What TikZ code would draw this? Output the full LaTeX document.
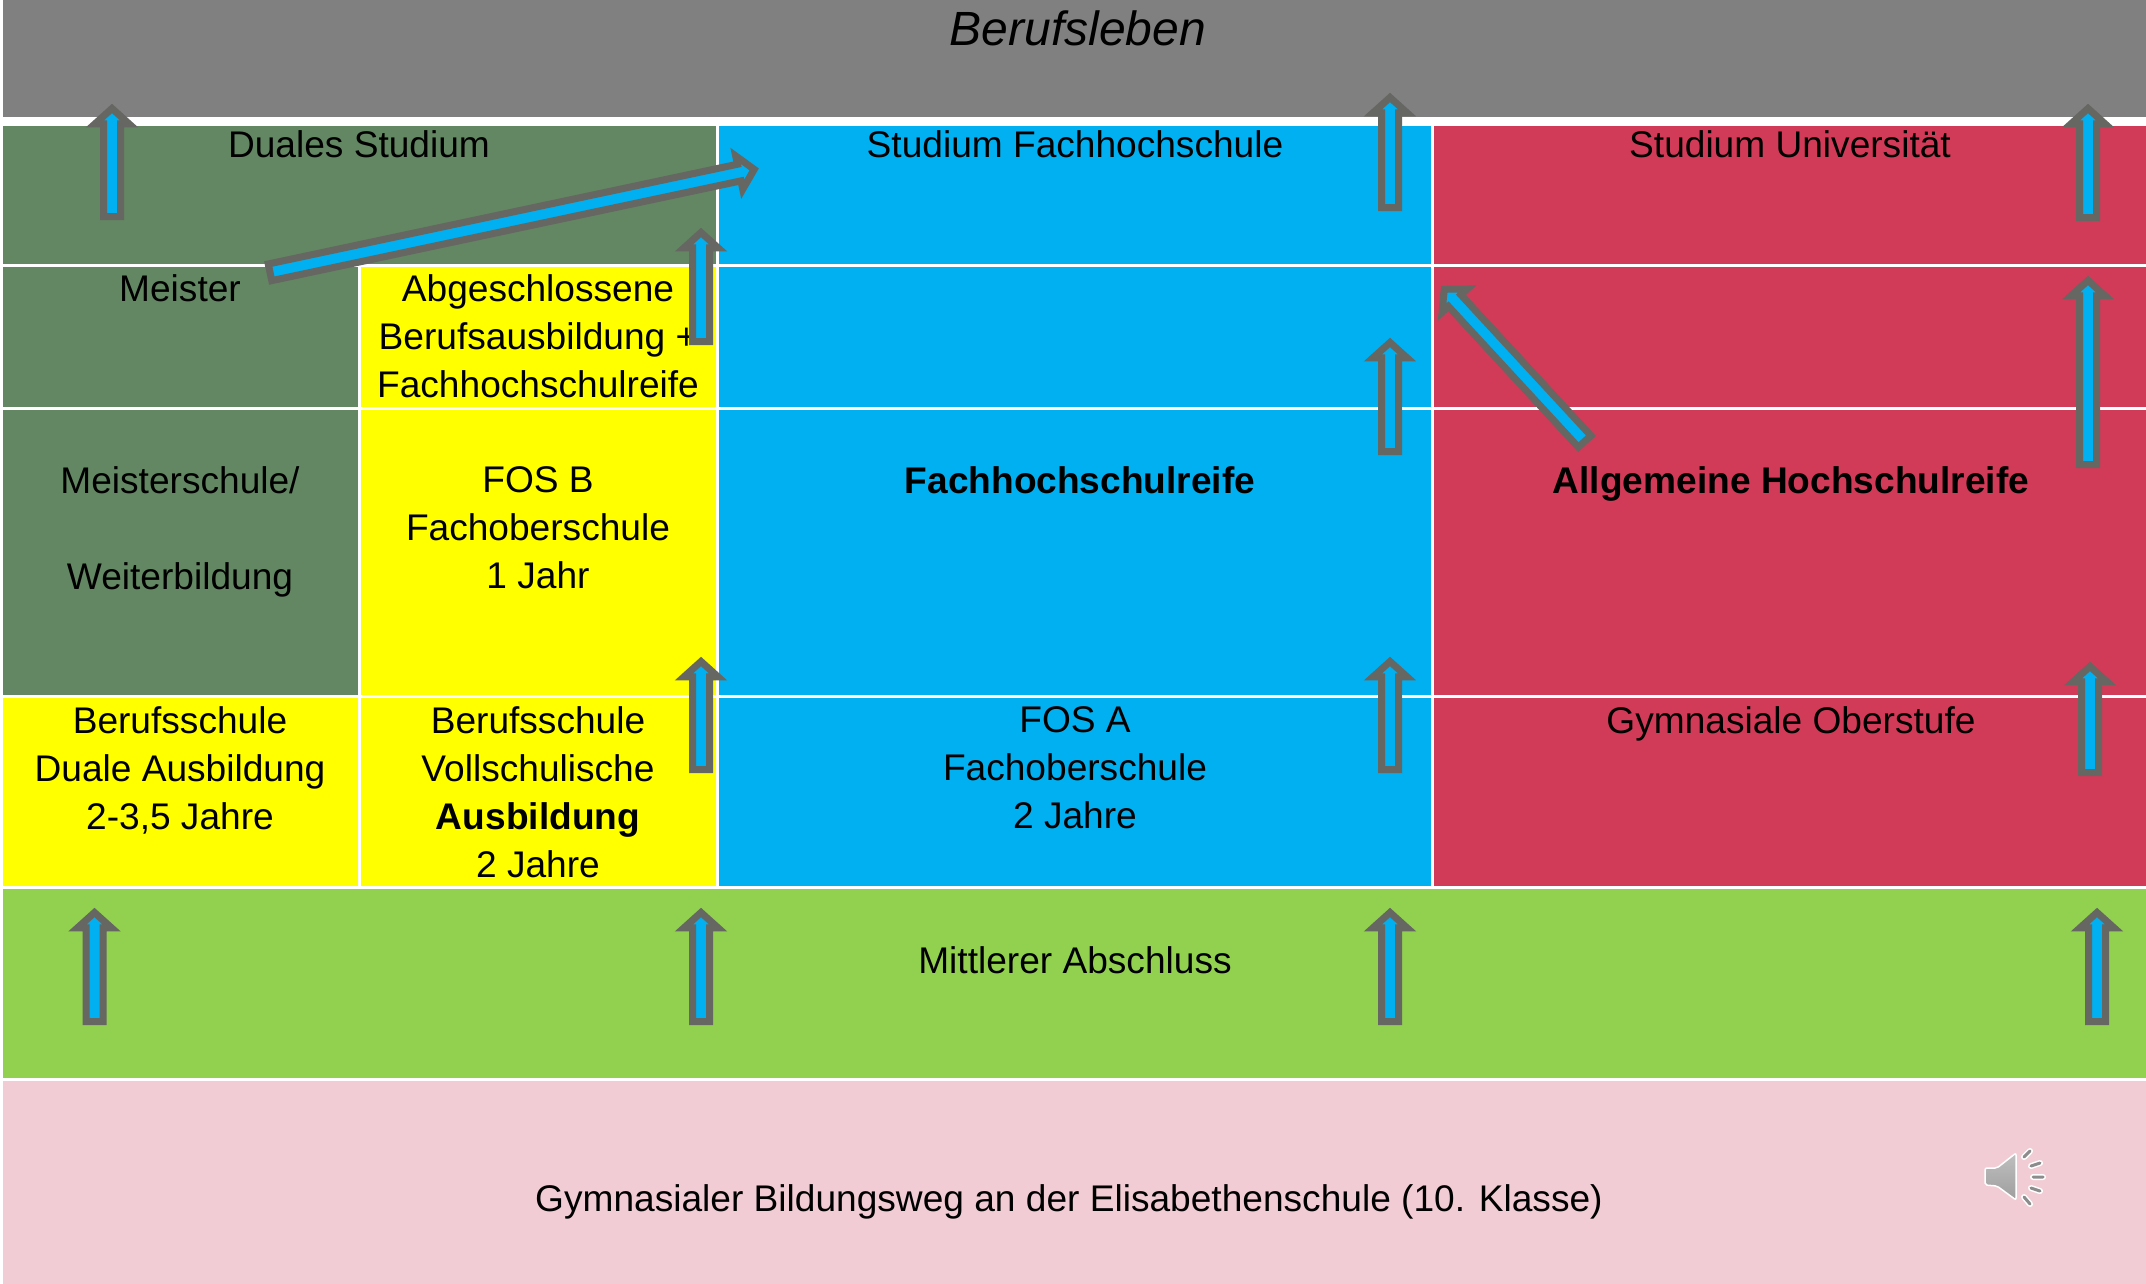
\documentclass[tikz,border=0pt]{standalone}
\usepackage{xcolor}
\usepackage{fontspec}
\usepackage{tikz}
\usetikzlibrary{shapes.arrows}
\setmainfont{Liberation Sans}
\definecolor{lebenGray}{HTML}{808080}
\definecolor{dualGreen}{HTML}{638763}
\definecolor{fhBlue}{HTML}{00B0F0}
\definecolor{uniRed}{HTML}{D13B57}
\definecolor{ausbYellow}{HTML}{FFFF00}
\definecolor{mittelGreen}{HTML}{92D050}
\definecolor{gymPink}{HTML}{F2CCD4}
\definecolor{arrowGray}{HTML}{666662}

\begin{document}
\begin{tikzpicture}[
  x=1pt, y=-1pt,
  cell/.style={draw=white, line width=3pt},
  label/.style={anchor=north, inner sep=0pt, align=center, font=\fontsize{37.1}{48}\selectfont},
  flowarrow/.style={single arrow, draw=arrowGray, fill=fhBlue, line width=7pt, miter limit=10,
    inner sep=0pt, outer sep=0pt, minimum width=34pt, single arrow head extend=3.5pt,
    single arrow tip angle=96, single arrow head indent=0pt, anchor=tail}
]
\useasboundingbox (0,0) rectangle (2146,1283);
% cells
\fill[white] (0,0) rectangle (2146,1283);
\filldraw[cell, fill=lebenGray] (1,-3) rectangle (2149,118);
\filldraw[cell, fill=dualGreen] (1,124) rectangle (717,265);
\filldraw[cell, fill=dualGreen] (1,265) rectangle (359,408);
\filldraw[cell, fill=dualGreen] (1,408) rectangle (359,696);
\filldraw[cell, fill=ausbYellow] (359,265) rectangle (717,408);
\filldraw[cell, fill=ausbYellow] (359,408) rectangle (717,696);
\filldraw[cell, fill=ausbYellow] (1,696) rectangle (359,887);
\filldraw[cell, fill=ausbYellow] (359,696) rectangle (717,887);
\filldraw[cell, fill=fhBlue] (717,124) rectangle (1432,265);
\filldraw[cell, fill=fhBlue] (717,265) rectangle (1432,408);
\filldraw[cell, fill=fhBlue] (717,408) rectangle (1432,696);
\filldraw[cell, fill=fhBlue] (717,696) rectangle (1432,887);
\filldraw[cell, fill=uniRed] (1432,124) rectangle (2149,265);
\filldraw[cell, fill=uniRed] (1432,265) rectangle (2149,408);
\filldraw[cell, fill=uniRed] (1432,408) rectangle (2149,696);
\filldraw[cell, fill=uniRed] (1432,696) rectangle (2149,887);
\filldraw[cell, fill=mittelGreen] (1,887) rectangle (2149,1079);
\filldraw[cell, fill=gymPink] (1,1079) rectangle (2149,1287);
% labels
\node[label, font=\fontsize{48}{56}\selectfont\itshape] (beruf) at (1078,11) {Berufsleben};
\node[label] (dual) at (359,130) {Duales Studium};
\node[label] (fhstud) at (1075,130) {Studium Fachhochschule};
\node[label] (unistud) at (1790,130) {Studium Universität};
\node[label] (meister) at (180,274) {Meister};
\node[label] (abgeschl) at (538,274) {Abgeschlossene\\Berufsausbildung +\\Fachhochschulreife};
\node[label] (mschule) at (180,466) {Meisterschule/\\~\\Weiterbildung};
\node[label] (fosb) at (538,466) {FOS B\\Fachoberschule\\1 Jahr};
\node[label, font=\fontsize{37.1}{48}\selectfont\bfseries] (fhreife) at (1080,466) {Fachhochschulreife};
\node[label, font=\fontsize{37.1}{48}\selectfont\bfseries] (hreife) at (1791,466) {Allgemeine Hochschulreife};
\node[label] (bsdual) at (180,706) {Berufsschule\\Duale Ausbildung\\2-3,5 Jahre};
\node[label] (bsvoll) at (538,706) {Berufsschule\\Vollschulische\\\textbf{Ausbildung}\\2 Jahre};
\node[label] (fosa) at (1075,706) {FOS A\\Fachoberschule\\2 Jahre};
\node[label] (oberst) at (1791,706) {Gymnasiale Oberstufe};
\node[label] (mittel) at (1075,946) {Mittlerer Abschluss};
\node[label] (gymweg) at (1069,1184) {Gymnasialer Bildungsweg an der Elisabethenschule (10. Klasse)};
% arrows
\node[flowarrow, minimum height=108pt, rotate=90] (upDual) at (112,216.5) {};
\node[flowarrow, minimum height=110pt, rotate=90] (upFh) at (1390,207.5) {};
\node[flowarrow, minimum height=109pt, rotate=90] (upUni) at (2088,217.5) {};
\node[flowarrow, minimum height=184pt, rotate=90] (upReife) at (2088,464.5) {};
\node[flowarrow, minimum height=109pt, rotate=90] (upFhReife) at (1390,451.5) {};
\node[flowarrow, minimum height=109pt, rotate=90] (upAbg) at (701,341.5) {};
\node[flowarrow, minimum height=108pt, rotate=90] (upVoll) at (701,769.5) {};
\node[flowarrow, minimum height=108pt, rotate=90] (upFosa) at (1390,769.5) {};
\node[flowarrow, minimum height=106pt, rotate=90] (upOberst) at (2090,772.5) {};
\node[flowarrow, minimum height=109pt, rotate=90] (upM1) at (94.5,1021.5) {};
\node[flowarrow, minimum height=109pt, rotate=90] (upM2) at (701,1021.5) {};
\node[flowarrow, minimum height=109pt, rotate=90] (upM3) at (1390,1021.5) {};
\node[flowarrow, minimum height=109pt, rotate=90] (upM4) at (2097,1021.5) {};
\node[flowarrow, minimum height=495pt, rotate=12] (meisterFh) at (270,272.3) {};
\node[flowarrow, minimum height=207pt, rotate=132.7] (reifeFh) at (1584.6,441.4) {};
% speaker
\filldraw[draw=white, line width=1.5pt, rounded corners=2pt, top color=black!25, bottom color=black!38]
  (1985,1168) -- (1997,1168) -- (2016,1153) -- (2016,1200) -- (1997,1186) -- (1985,1185) -- cycle;
\draw[white, line width=6pt, line cap=round] (2024,1157) -- (2030,1151) (2031,1166) -- (2040,1163) (2033,1177) -- (2043,1177) (2031,1188) -- (2040,1191) (2024,1197) -- (2030,1204);
\draw[black!45, line width=3pt, line cap=round] (2024,1157) -- (2030,1151) (2031,1166) -- (2040,1163) (2033,1177) -- (2043,1177) (2031,1188) -- (2040,1191) (2024,1197) -- (2030,1204);
\end{tikzpicture}
\end{document}
